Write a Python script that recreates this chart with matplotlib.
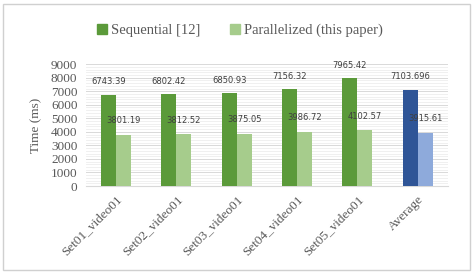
import numpy as np
import matplotlib.pyplot as plt
from matplotlib.patches import Rectangle, Patch
from matplotlib.ticker import MultipleLocator

categories = ['Set01_video01', 'Set02_video01', 'Set03_video01',
              'Set04_video01', 'Set05_video01', 'Average']
sequential = [6743.39, 6802.42, 6850.93, 7156.32, 7965.42, 7103.696]
parallel = [3801.19, 3812.52, 3875.05, 3986.72, 4102.57, 3915.61]
seq_labels = ['6743.39', '6802.42', '6850.93', '7156.32', '7965.42', '7103.696']
par_labels = ['3801.19', '3812.52', '3875.05', '3986.72', '4102.57', '3915.61']

SEQ_GREEN = '#5b9a3a'
PAR_GREEN = '#a6cc8c'
SEQ_BLUE = '#2f5597'
PAR_BLUE = '#8eaadb'
SERIF = ['Liberation Serif', 'DejaVu Serif']

fig = plt.figure(figsize=(4.74, 2.74), dpi=100, facecolor='white')
ax = fig.add_axes([0.181, 0.321, 0.764, 0.445])

# light border round the whole chart
fig.patches.append(Rectangle((3 / 474, 4 / 274), 467 / 474, 266 / 274,
                             transform=fig.transFigure, fill=False,
                             edgecolor='#d0d0d0', linewidth=1.0))

x = np.arange(len(categories))
w = 0.25
seq_colors = [SEQ_GREEN] * 5 + [SEQ_BLUE]
par_colors = [PAR_GREEN] * 5 + [PAR_BLUE]
ax.bar(x - w / 2, sequential, w, color=seq_colors, zorder=3)
ax.bar(x + w / 2, parallel, w, color=par_colors, zorder=3)

for i in range(len(categories)):
    ax.annotate(seq_labels[i], (x[i] - w / 2, sequential[i]), xytext=(0, 6),
                textcoords='offset points', ha='center', va='bottom',
                fontsize=6, color='#404040', zorder=5)
    ax.annotate(par_labels[i], (x[i] + w / 2, parallel[i]), xytext=(0, 7),
                textcoords='offset points', ha='center', va='bottom',
                fontsize=6, color='#404040', zorder=5)

ax.set_xlim(-0.5, len(categories) - 0.5)
ax.set_ylim(0, 9000)
ax.yaxis.set_major_locator(MultipleLocator(1000))
ax.yaxis.set_minor_locator(MultipleLocator(200))
ax.grid(axis='y', which='major', color='#d9d9d9', linewidth=0.7, zorder=0)
ax.grid(axis='y', which='minor', color='#eeeeee', linewidth=0.6, zorder=0)
ax.set_axisbelow(True)

for s in ['top', 'right', 'left']:
    ax.spines[s].set_visible(False)
ax.spines['bottom'].set_color('#d9d9d9')

ax.set_xticks(x)
ax.set_xticklabels(categories, rotation=45, ha='right', rotation_mode='anchor',
                   fontsize=9.5, color='#595959', family=SERIF)
ax.tick_params(axis='both', which='both', length=0)
ax.tick_params(axis='x', pad=5)
for lbl in ax.get_yticklabels():
    lbl.set_family(SERIF)
ax.tick_params(axis='y', labelsize=9.5, labelcolor='#595959', pad=6)

ax.set_ylabel('Time (ms)', fontsize=9.5, color='#595959', family=SERIF, labelpad=6)

handles = [Patch(color=SEQ_GREEN, label='Sequential [12]'),
           Patch(color=PAR_GREEN, label='Parallelized (this paper)')]
fig.legend(handles=handles, loc='center', bbox_to_anchor=(0.506, 0.89), ncol=2,
           frameon=False, handlelength=0.7, handleheight=0.7, handletextpad=0.3,
           columnspacing=2.0, prop={'family': SERIF, 'size': 10.5},
           labelcolor='#595959')

fig.savefig('out.png', dpi=100)
